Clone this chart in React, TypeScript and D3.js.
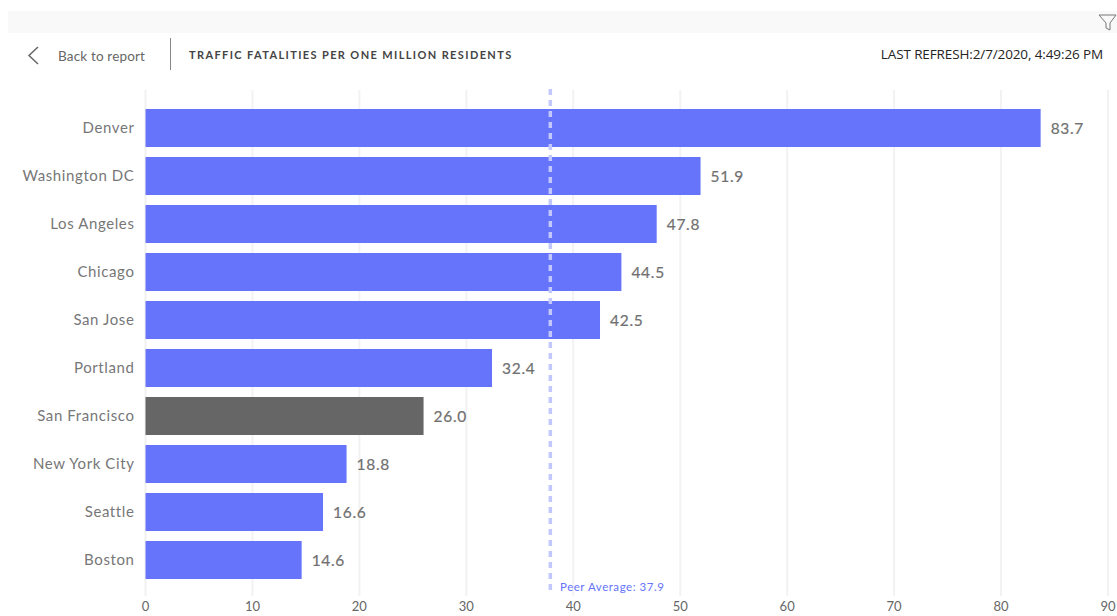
import React from "react";
import * as d3 from "d3";

const cities = ["Denver","Washington DC","Los Angeles","Chicago","San Jose","Portland","San Francisco","New York City","Seattle","Boston"];
const values = [83.7,51.9,47.8,44.5,42.5,32.4,26.0,18.8,16.6,14.6];
const ticks = [0,10,20,30,40,50,60,70,80,90];
const peerAverage = 37.9;
const highlighted = "San Francisco";

export default function App() {
  const x = d3.scaleLinear().domain([0, 90]).range([145.5, 1108]);
  const y = d3.scaleBand().domain(cities).range([104, 584]).paddingInner(0.208).paddingOuter(0.104);
  const font = "Lato, 'Noto Sans', sans-serif";
  return (
    <svg width={1117} height={616} style={{position:"absolute",left:0,top:0,background:"#fff"}} fontFamily={font}>
      <rect x={8} y={11} width={1109} height={22} fill="#f9f9f9" />
      <path d="M1099 15 L1116 15 L1110 23 L1110 30 L1106 28 L1106 23 Z" fill="none" stroke="#777" strokeWidth={1} />
      <path d="M38 47 L29 55.5 L38 64" fill="none" stroke="#666" strokeWidth={1.5} />
      <text x={58} y={60.5} fontSize={13.5} letterSpacing={0.17} fill="#666">Back to report</text>
      <line x1={170.5} x2={170.5} y1={38} y2={70} stroke="#888" />
      <text x={189} y={59} fontSize={11} fontWeight={700} letterSpacing={1.38} fill="#444">TRAFFIC FATALITIES PER ONE MILLION RESIDENTS</text>
      <text x={1103} y={59} fontSize={13.5} textAnchor="end" fill="#252423" fontFamily="'Open Sans', sans-serif" letterSpacing={-0.12}>LAST REFRESH:2/7/2020, 4:49:26 PM</text>
      {ticks.map(t => (
        <g key={t}>
          <line x1={x(t)} x2={x(t)} y1={90} y2={596} stroke="#f2f2f2" strokeWidth={2} />
          <text x={x(t)} y={611} fontSize={13} textAnchor="middle" fill="#666">{t}</text>
        </g>
      ))}
      {cities.map((c, i) => (
        <g key={c}>
          <rect x={x(0)} y={y(c)} width={x(values[i]) - x(0)} height={y.bandwidth()} fill={c === highlighted ? "#666666" : "#6673fb"} />
          <text x={134.5} y={y(c)! + y.bandwidth() / 2 + 5} fontSize={15} letterSpacing={0.6} textAnchor="end" fill="#777">{c}</text>
          <text x={x(values[i]) + 10} y={y(c)! + y.bandwidth() / 2 + 6} fontSize={15.5} letterSpacing={0.7} stroke="#707070" strokeWidth={0.2} fill="#707070">{values[i].toFixed(1)}</text>
        </g>
      ))}
      <line x1={x(peerAverage) - 0.5} x2={x(peerAverage) - 0.5} y1={89} y2={594} stroke="#c2c7fd" strokeWidth={3.5} strokeDasharray="6 5" />
      <text x={560} y={591} fontSize={11.5} letterSpacing={0.54} fill="#6673fb">Peer Average: {peerAverage}</text>
    </svg>
  );
}
